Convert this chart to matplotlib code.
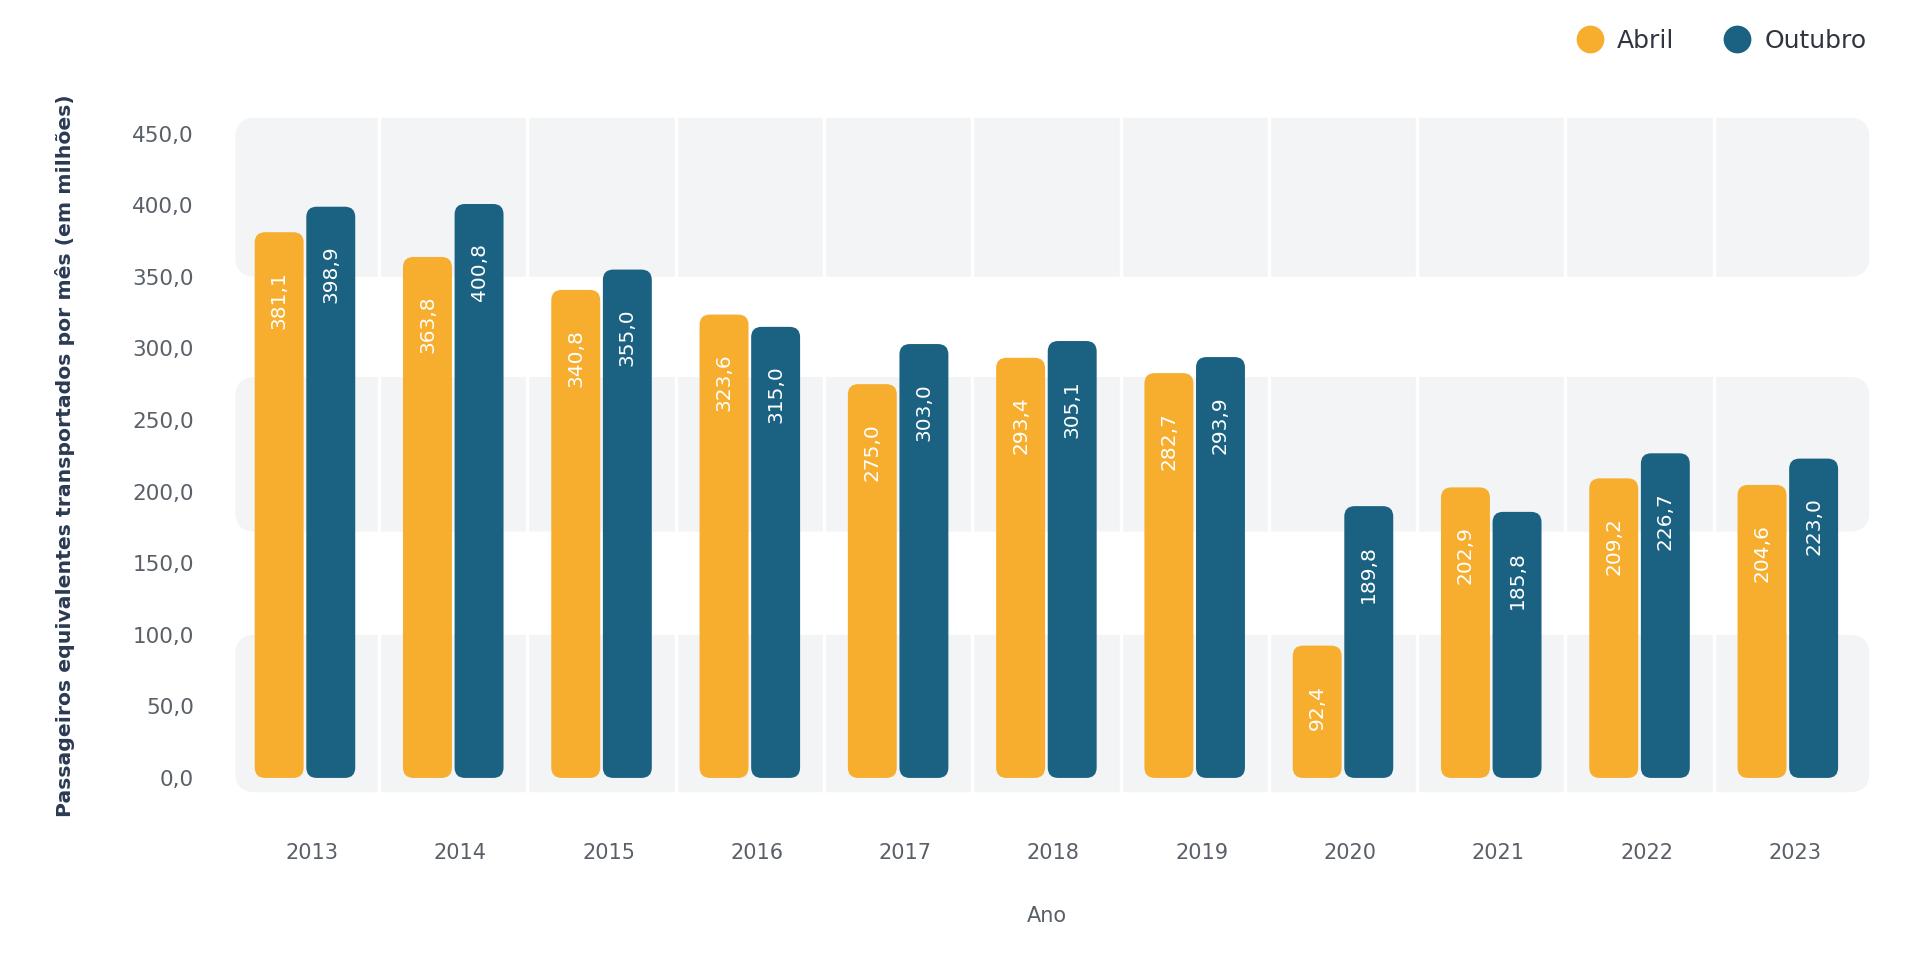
import matplotlib
matplotlib.use("Agg")
import matplotlib.pyplot as plt
import matplotlib.transforms as mtransforms
from matplotlib.patches import FancyBboxPatch
from matplotlib.lines import Line2D

# data (passageiros equivalentes, em milhões)
anos = ["2013", "2014", "2015", "2016", "2017", "2018", "2019", "2020", "2021", "2022", "2023"]
abril = [381.1, 363.8, 340.8, 323.6, 275.0, 293.4, 282.7, 92.4, 202.9, 209.2, 204.6]
outubro = [398.9, 400.8, 355.0, 315.0, 303.0, 305.1, 293.9, 189.8, 185.8, 226.7, 223.0]
yticks = [0, 50, 100, 150, 200, 250, 300, 350, 400, 450]

# decorative background bands (y ranges)
bands = [(-10, 100), (172, 280), (350, 461)]

ORANGE = "#F7AE2F"
TEAL = "#1B6282"
BAND = "#F3F4F6"
TICK = "#5A6068"
NAVY = "#2B3A52"

plt.rcParams["font.family"] = ["DejaVu Sans"]

fig = plt.figure(figsize=(19.2, 9.74), dpi=100)
ax = fig.add_axes([0.1125, 0.1719, 0.865, 0.7204])
ax.set_xlim(-0.6, 10.6)
ax.set_ylim(-20, 470)

# aspect: x-unit pixels / y-unit pixels
px_x = 0.865 * 1920 / 11.2
px_y = 0.7204 * 974 / 490
asp = px_x / px_y

# background bands with rounded outer corners
for lo, hi in bands:
    ax.add_patch(FancyBboxPatch((-0.47, lo), 11.02, hi - lo,
                                boxstyle="round,pad=0,rounding_size=0.135",
                                mutation_aspect=asp, fc=BAND, ec="none", zorder=0))
for i in range(len(anos) - 1):
    ax.axvline(i + 0.5, color="white", lw=2.5, zorder=1)

w = 0.33
off = 0.174
for i in range(len(anos)):
    for val, dx, col in [(abril[i], -off, ORANGE), (outubro[i], off, TEAL)]:
        x0 = i + dx - w / 2
        ax.add_patch(FancyBboxPatch((x0, 0), w, val,
                                    boxstyle="round,pad=0,rounding_size=0.07",
                                    mutation_aspect=asp, fc=col, ec="none", zorder=2))
        ax.annotate(f"{val:.1f}".replace(".", ","), (i + dx, val),
                    xytext=(0, -28), textcoords="offset points",
                    rotation=90, ha="center", va="top",
                    color="white", fontsize=14.5, zorder=3)

ax.set_xticks(range(len(anos)))
ax.set_xticklabels(anos)
ax.set_yticks(yticks)
ax.set_yticklabels([f"{v:.1f}".replace(".", ",") for v in yticks])
ax.tick_params(axis="x", length=0, pad=26, labelsize=15, labelcolor=TICK)
ax.tick_params(axis="y", length=0, pad=16, labelsize=15.5, labelcolor=TICK)
shift = mtransforms.ScaledTranslation(7 / 100, 0, fig.dpi_scale_trans)
for lab in ax.get_xticklabels():
    lab.set_transform(lab.get_transform() + shift)
for s in ax.spines.values():
    s.set_visible(False)

ax.set_xlabel("Ano", fontsize=15, color=TICK, labelpad=31)
ax.set_ylabel("Passageiros equivalentes transportados por mês (em milhões)",
              fontsize=14.7, fontweight="bold", color=NAVY)
ax.yaxis.set_label_coords(-0.085, 0.5)

handles = [Line2D([], [], ls="none", marker="o", ms=20, mfc=ORANGE, mec="none"),
           Line2D([], [], ls="none", marker="o", ms=20, mfc=TEAL, mec="none")]
fig.legend(handles, ["Abril", "Outubro"], loc="center right",
           bbox_to_anchor=(0.984, 0.958), ncol=2, frameon=False,
           fontsize=18, labelcolor="#2E3440", handletextpad=0.5,
           columnspacing=1.9, handlelength=1.2)

fig.savefig("out.png", dpi=100, facecolor="white")
